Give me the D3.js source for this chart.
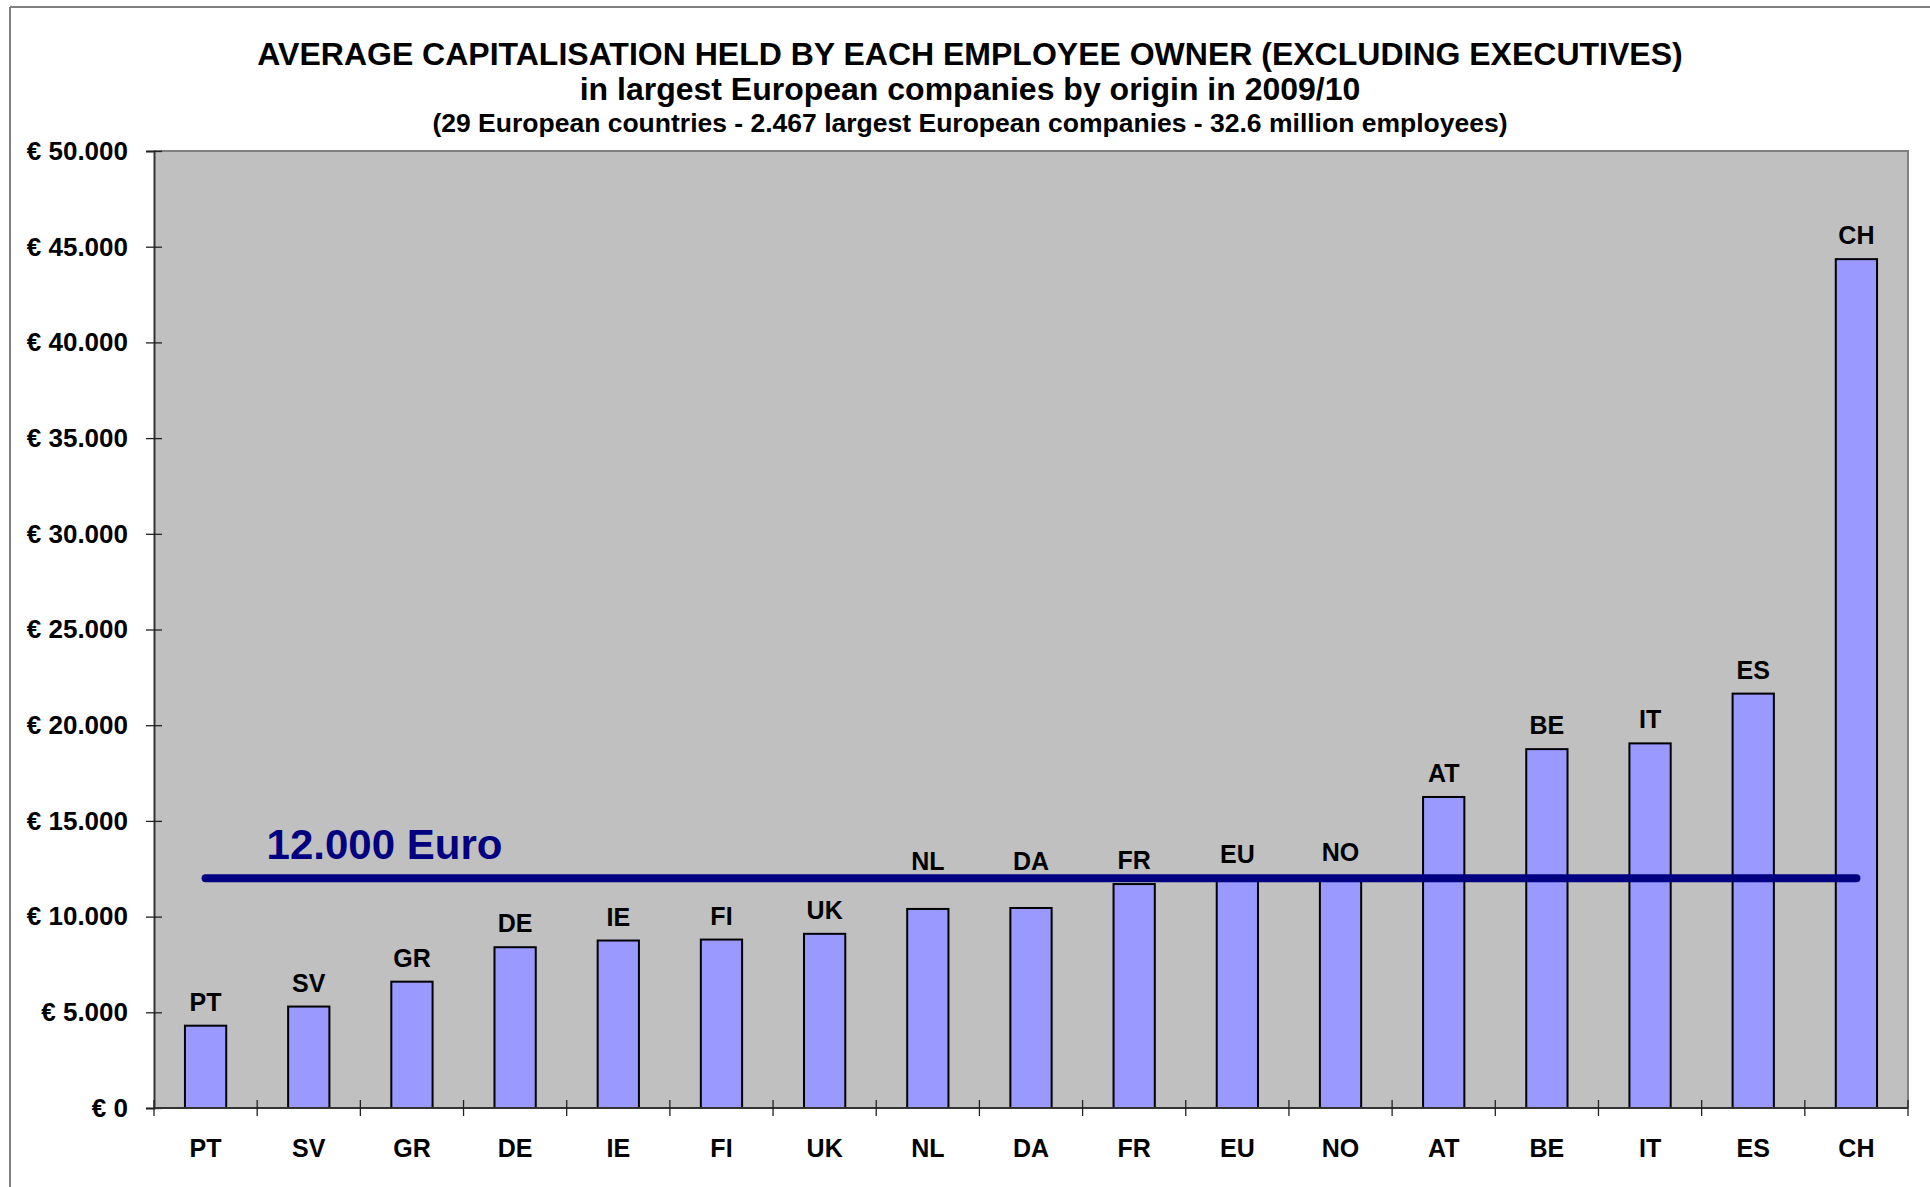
<!DOCTYPE html>
<html>
<head>
<meta charset="utf-8">
<script src="https://cdn.jsdelivr.net/npm/d3@7"></script>
<style>
  body { margin: 0; background: #fff; }
  svg { display: block; font-family: "Liberation Sans", Arial, sans-serif; font-weight: bold; }
</style>
</head>
<body>
<svg id="chart"></svg>
<script>
const width = 1930, height = 1187;
const margin = { top: 151, right: 22, bottom: 79, left: 154 };
const plotWidth = width - margin.left - margin.right;
const plotHeight = height - margin.top - margin.bottom;

// Data
const categories = ["PT", "SV", "GR", "DE", "IE", "FI", "UK", "NL", "DA", "FR", "EU", "NO", "AT", "BE", "IT", "ES", "CH"];
const values = [4300, 5300, 6600, 8400, 8750, 8800, 9100, 10400, 10450, 11700, 12000, 12100, 16250, 18750, 19050, 21650, 44350];
const yTicks = [0, 5000, 10000, 15000, 20000, 25000, 30000, 35000, 40000, 45000, 50000];
const referenceValue = 12000;
const referenceLabel = "12.000 Euro";
const titleLines = [
    "AVERAGE CAPITALISATION HELD BY EACH EMPLOYEE OWNER (EXCLUDING EXECUTIVES)",
    "in largest European companies by origin in 2009/10",
    "(29 European countries - 2.467 largest European companies - 32.6 million employees)"
];

const data = categories.map((c, i) => ({ cat: c, value: values[i] }));

const svg = d3.select("#chart")
    .attr("width", width)
    .attr("height", height);

// Outer frame (left and top only, as cropped in the original)
svg.append("line").attr("x1", 10).attr("x2", 10).attr("y1", 7).attr("y2", height)
    .attr("stroke", "#808080").attr("stroke-width", 2);
svg.append("line").attr("x1", 10).attr("x2", width).attr("y1", 7).attr("y2", 7)
    .attr("stroke", "#808080").attr("stroke-width", 2);

// Titles
const titleX = 970;
const titleSpecs = [
    { size: 32, y: 65 },
    { size: 32, y: 100 },
    { size: 26.5, y: 132 }
];
titleLines.forEach((t, i) => {
    svg.append("text")
        .attr("x", titleX)
        .attr("y", titleSpecs[i].y)
        .attr("text-anchor", "middle")
        .attr("font-size", titleSpecs[i].size)
        .attr("fill", "#000")
        .text(t);
});

const g = svg.append("g")
    .attr("transform", `translate(${margin.left},${margin.top})`);

// Scales
const xScale = d3.scaleBand().domain(categories).range([0, plotWidth]).padding(0);
const yScale = d3.scaleLinear().domain([0, 50000]).range([plotHeight, 0]);
const barWidth = xScale.bandwidth() * 0.4;
const yLine = yScale(referenceValue);

// Plot background
g.append("rect")
    .attr("width", plotWidth)
    .attr("height", plotHeight)
    .attr("fill", "#c0c0c0");

// Plot border top / right
g.append("path")
    .attr("d", `M0,0H${plotWidth}V${plotHeight}`)
    .attr("fill", "none")
    .attr("stroke", "#808080")
    .attr("stroke-width", 2);

// Bars
g.append("g")
    .selectAll("rect")
    .data(data)
    .enter()
    .append("rect")
    .attr("x", d => xScale(d.cat) + (xScale.bandwidth() - barWidth) / 2)
    .attr("y", d => yScale(d.value))
    .attr("width", barWidth)
    .attr("height", d => yScale(0) - yScale(d.value))
    .attr("fill", "#9999ff")
    .attr("stroke", "#000")
    .attr("stroke-width", 2);

// Reference line at 12.000 Euro
const firstX = xScale(categories[0]) + xScale.bandwidth() / 2;
const lastX = xScale(categories[categories.length - 1]) + xScale.bandwidth() / 2;
g.append("line")
    .attr("x1", firstX)
    .attr("x2", lastX)
    .attr("y1", yLine)
    .attr("y2", yLine)
    .attr("stroke", "#000080")
    .attr("stroke-width", 8)
    .attr("stroke-linecap", "round");

g.append("text")
    .attr("x", firstX + 61)
    .attr("y", yLine - 19)
    .attr("font-size", 42)
    .attr("fill", "#000080")
    .text(referenceLabel);

// Bar labels, lifted above the reference line when they would sit on it
function labelY(v) {
    const y = yScale(v) - 15;
    const collides = y > yLine - 8 && y - 20 < yLine + 6;
    return collides ? yLine - 8 : y;
}
g.append("g")
    .selectAll("text")
    .data(data)
    .enter()
    .append("text")
    .attr("x", d => xScale(d.cat) + xScale.bandwidth() / 2)
    .attr("y", d => labelY(d.value))
    .attr("text-anchor", "middle")
    .attr("font-size", 25)
    .attr("fill", "#000")
    .text(d => d.cat);

// Y axis
const fmt = v => "€ " + d3.format(",")(v).replace(/,/g, ".");
const yAxis = g.append("g")
    .call(d3.axisLeft(yScale).tickValues(yTicks).tickFormat(fmt).tickSize(8).tickPadding(18));
yAxis.select(".domain").attr("stroke", "#333").attr("stroke-width", 2);
yAxis.selectAll(".tick line").attr("x1", 8).attr("x2", -8).attr("stroke", "#222").attr("stroke-width", 1.3);
yAxis.selectAll(".tick text")
    .attr("font-size", 26)
    .attr("font-family", "'Liberation Sans', Arial, sans-serif")
    .attr("font-weight", "bold")
    .attr("fill", "#000");

// X axis: line, boundary ticks and category labels
const xAxis = g.append("g").attr("transform", `translate(0,${plotHeight})`);
xAxis.append("line")
    .attr("x1", 0).attr("x2", plotWidth)
    .attr("stroke", "#333").attr("stroke-width", 2);
xAxis.selectAll(".xtick")
    .data(categories.map(c => xScale(c)).concat([plotWidth]))
    .enter()
    .append("line")
    .attr("class", "xtick")
    .attr("x1", d => d).attr("x2", d => d)
    .attr("y1", -8).attr("y2", 8)
    .attr("stroke", "#222").attr("stroke-width", 1.3);
xAxis.selectAll(".xlabel")
    .data(categories)
    .enter()
    .append("text")
    .attr("class", "xlabel")
    .attr("x", d => xScale(d) + xScale.bandwidth() / 2)
    .attr("y", 49)
    .attr("text-anchor", "middle")
    .attr("font-size", 25)
    .attr("fill", "#000")
    .text(d => d);
</script>
</body>
</html>
